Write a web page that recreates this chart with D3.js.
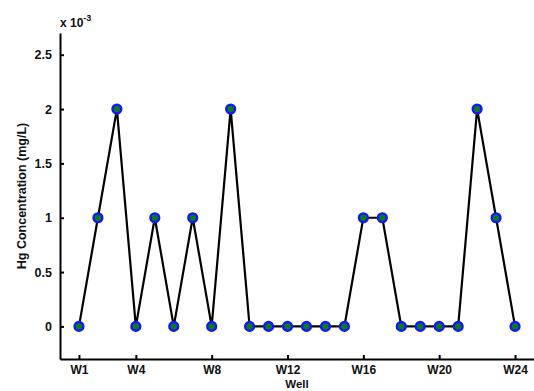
<!DOCTYPE html>
<html>
<head>
<meta charset="utf-8">
<script src="https://cdn.jsdelivr.net/npm/d3@7"></script>
<style>
  html, body { margin: 0; padding: 0; background: #fff; }
  svg { display: block; font-family: "Liberation Sans", Arial, sans-serif; font-weight: bold; }
</style>
</head>
<body>
<svg id="chart" width="534" height="391"></svg>
<script>
// Mercury concentration per well (mg/L)
const wells = d3.range(1, 25).map(i => "W" + i);
const hgValues = [0, 0.001, 0.002, 0, 0.001, 0, 0.001, 0, 0.002, 0,
                  0, 0, 0, 0, 0, 0.001, 0.001, 0, 0, 0,
                  0, 0.002, 0.001, 0];
const xTickLabels = ["W1", "W4", "W8", "W12", "W16", "W20", "W24"];
const yTicks = [0, 0.0005, 0.001, 0.0015, 0.002, 0.0025];

const svg = d3.select("#chart");
const plotLeft = 60, plotRight = 534, plotTop = 33, plotBottom = 359;

const x = d3.scaleLinear().domain([0, 25]).range([plotLeft, plotRight]);
const y = d3.scaleLinear().domain([-0.0003, 0.0027]).range([plotBottom, plotTop]);

const tickFont = 12.5;

// Y axis (inward ticks, scaled by 10^-3)
const yAxis = d3.axisLeft(y).tickValues(yTicks).tickSizeInner(-4).tickSizeOuter(0)
  .tickPadding(8).tickFormat(v => d3.format("~g")(+(v * 1000).toFixed(3)));
const gy = svg.append("g").attr("transform", `translate(${plotLeft},0)`).call(yAxis);
gy.select(".domain").attr("stroke", "#000").attr("stroke-width", 2);
gy.selectAll(".tick line").attr("stroke", "#000").attr("stroke-width", 2);
gy.selectAll(".tick text").attr("font-size", tickFont).attr("font-weight", "bold")
  .attr("fill", "#111").attr("font-family", "Liberation Sans, Arial, sans-serif");

// X axis
const xIndex = w => wells.indexOf(w) + 1;
const xAxis = d3.axisBottom(x).tickValues(xTickLabels.map(xIndex)).tickSizeInner(-4).tickSizeOuter(0)
  .tickPadding(6).tickFormat(v => wells[v - 1]);
const gx = svg.append("g").attr("transform", `translate(0,${plotBottom})`).call(xAxis);
gx.select(".domain").attr("stroke", "#000").attr("stroke-width", 2);
gx.selectAll(".tick line").attr("stroke", "#000").attr("stroke-width", 2);
gx.selectAll(".tick text").attr("font-size", 12).attr("font-weight", "bold")
  .attr("fill", "#111").attr("font-family", "Liberation Sans, Arial, sans-serif");

// Exponent note
const ex = svg.append("text").attr("x", plotLeft).attr("y", 27).attr("font-size", 12).attr("fill", "#111");
ex.append("tspan").text("x 10");
ex.append("tspan").attr("font-size", 9).attr("dy", -6).text("-3");

// Axis titles
svg.append("text").attr("x", (plotLeft + plotRight) / 2).attr("y", 388).attr("text-anchor", "middle")
  .attr("font-size", 11.5).attr("fill", "#111").text("Well");
svg.append("text").attr("transform", `translate(26,${(plotTop + plotBottom) / 2}) rotate(-90)`)
  .attr("text-anchor", "middle").attr("font-size", 12.5).attr("fill", "#111")
  .text("Hg Concentration (mg/L)");

// Line
const data = hgValues.map((v, i) => ({ i: i + 1, v }));
svg.append("path").datum(data)
  .attr("fill", "none").attr("stroke", "#000").attr("stroke-width", 2.2)
  .attr("stroke-linejoin", "miter")
  .attr("d", d3.line().x(d => x(d.i)).y(d => y(d.v)));

// Markers
svg.append("g").selectAll("circle").data(data).join("circle")
  .attr("cx", d => x(d.i)).attr("cy", d => y(d.v)).attr("r", 4.4)
  .attr("fill", "#0a7a1e").attr("stroke", "#1414ff").attr("stroke-width", 2.4);
</script>
</body>
</html>
